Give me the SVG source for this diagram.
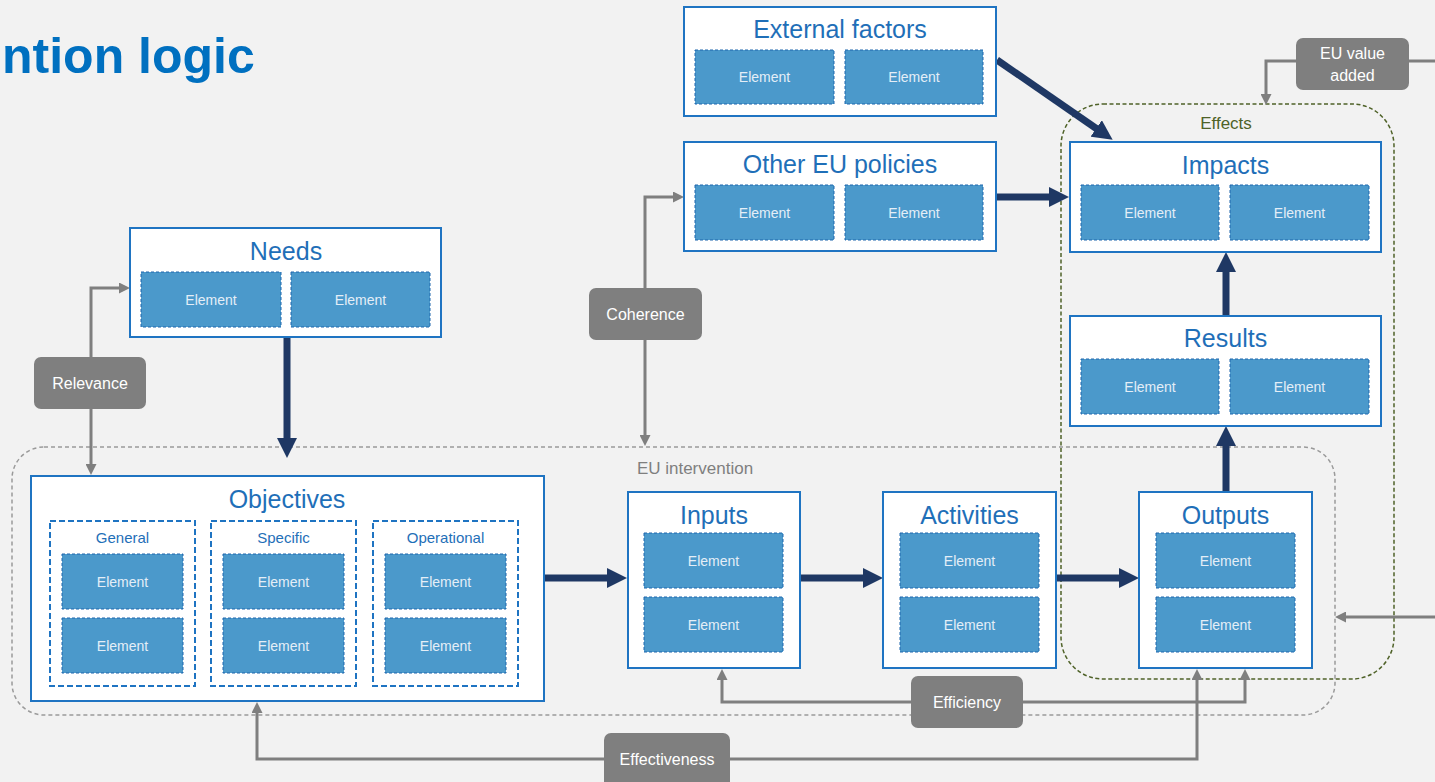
<svg xmlns="http://www.w3.org/2000/svg" width="1435" height="782" viewBox="0 0 1435 782">
<defs>
<style>
.node{fill:#fff;stroke:#1f74c2;stroke-width:2}
.ttl{font-family:"Liberation Sans",Arial,sans-serif;font-size:25px;fill:#1f6fb8;text-anchor:middle}
.el{fill:#4b99cb;stroke:#1f66ad;stroke-width:1;stroke-dasharray:3 2}
.elt{font-family:"Liberation Sans",Arial,sans-serif;font-size:14px;fill:#e4eef7;text-anchor:middle}
.sub{fill:#fff;stroke:#1f74c2;stroke-width:2;stroke-dasharray:6 3}
.subt{font-family:"Liberation Sans",Arial,sans-serif;font-size:15px;fill:#1f6fb8;text-anchor:middle}
.lbl{fill:#7f7f7f}
.lblt{font-family:"Liberation Sans",Arial,sans-serif;font-size:16px;fill:#fff;text-anchor:middle}
.navy{stroke:#1f3864;stroke-width:7;fill:none}
.gray{stroke:#7f7f7f;stroke-width:3;fill:none}
</style>
<marker id="an" viewBox="0 0 20 20" markerWidth="20" markerHeight="20" refX="1" refY="10" orient="auto" markerUnits="userSpaceOnUse"><path d="M0,0 L20,10 L0,20 z" fill="#1f3864"/></marker>
<marker id="ag" viewBox="0 0 11 11" markerWidth="11" markerHeight="11" refX="1" refY="5.5" orient="auto" markerUnits="userSpaceOnUse"><path d="M0,0 L11,5.5 L0,11 z" fill="#7f7f7f"/></marker>
</defs>
<rect width="1435" height="782" fill="#f2f2f2"/>
<text x="2" y="73" font-family="Liberation Sans,Arial,sans-serif" font-size="50" font-weight="bold" fill="#0070c0">ntion logic</text>

<g id="groups">
<rect x="12" y="447" width="1323" height="268" rx="32" fill="none" stroke="#9a9a9a" stroke-width="1.5" stroke-dasharray="4 3"/>
<text x="695" y="474" font-family="Liberation Sans,Arial,sans-serif" font-size="17" fill="#7f7f7f" text-anchor="middle">EU intervention</text>
<rect x="1061" y="104" width="333" height="575" rx="42" fill="none" stroke="#4f6228" stroke-width="1.5" stroke-dasharray="4 2.5"/>
<text x="1226" y="129" font-family="Liberation Sans,Arial,sans-serif" font-size="17" fill="#4f6228" text-anchor="middle">Effects</text>
</g>

<g id="connectors">
<path class="gray" d="M91,357 V288 H120" marker-end="url(#ag)"/>
<path class="gray" d="M91,409 V465" marker-end="url(#ag)"/>
<path class="gray" d="M645,288 V197 H674" marker-end="url(#ag)"/>
<path class="gray" d="M645,340 V436" marker-end="url(#ag)"/>
<path class="gray" d="M1296,61 H1266 V95" marker-end="url(#ag)"/>
<path class="gray" d="M1409,61 H1435"/>
<path class="gray" d="M1435,617 H1345" marker-end="url(#ag)"/>
<path class="gray" d="M911,702 H722 V679" marker-end="url(#ag)"/>
<path class="gray" d="M1023,702 H1245 V679" marker-end="url(#ag)"/>
<path class="gray" d="M604,759 H257 V712" marker-end="url(#ag)"/>
<path class="gray" d="M730,759 H1197 V679" marker-end="url(#ag)"/>
<path class="navy" d="M287,338 V439" marker-end="url(#an)"/>
<path class="navy" d="M545,578 H608" marker-end="url(#an)"/>
<path class="navy" d="M801,578 H864" marker-end="url(#an)"/>
<path class="navy" d="M1057,578 H1120" marker-end="url(#an)"/>
<path class="navy" d="M1226,492 V445" marker-end="url(#an)"/>
<path class="navy" d="M1226,316 V271" marker-end="url(#an)"/>
<path class="navy" d="M997,197 H1050" marker-end="url(#an)"/>
<path class="navy" d="M997,60 L1097,129" marker-end="url(#an)"/>
</g>

<g id="external-factors">
<rect class="node" x="684" y="7" width="312" height="109"/>
<text class="ttl" x="840" y="38">External factors</text>
<rect class="el" x="695" y="50" width="139" height="54"/><text class="elt" x="764.5" y="82">Element</text>
<rect class="el" x="845" y="50" width="138" height="54"/><text class="elt" x="914" y="82">Element</text>
</g>

<g id="other-eu-policies">
<rect class="node" x="684" y="142" width="312" height="109"/>
<text class="ttl" x="840" y="173">Other EU policies</text>
<rect class="el" x="695" y="185" width="139" height="55"/><text class="elt" x="764.5" y="217.5">Element</text>
<rect class="el" x="845" y="185" width="138" height="55"/><text class="elt" x="914" y="217.5">Element</text>
</g>

<g id="needs">
<rect class="node" x="130" y="228" width="311" height="109"/>
<text class="ttl" x="286" y="260">Needs</text>
<rect class="el" x="141" y="272" width="140" height="55"/><text class="elt" x="211" y="304.5">Element</text>
<rect class="el" x="291" y="272" width="139" height="55"/><text class="elt" x="360.5" y="304.5">Element</text>
</g>

<g id="objectives">
<rect class="node" x="31" y="476" width="513" height="225"/>
<text class="ttl" x="287" y="508">Objectives</text>
<rect class="sub" x="50" y="521" width="145" height="165"/>
<text class="subt" x="122.5" y="543">General</text>
<rect class="el" x="62" y="554" width="121" height="55"/><text class="elt" x="122.5" y="586.5">Element</text>
<rect class="el" x="62" y="618" width="121" height="55"/><text class="elt" x="122.5" y="650.5">Element</text>
<rect class="sub" x="211" y="521" width="145" height="165"/>
<text class="subt" x="283.5" y="543">Specific</text>
<rect class="el" x="223" y="554" width="121" height="55"/><text class="elt" x="283.5" y="586.5">Element</text>
<rect class="el" x="223" y="618" width="121" height="55"/><text class="elt" x="283.5" y="650.5">Element</text>
<rect class="sub" x="373" y="521" width="145" height="165"/>
<text class="subt" x="445.5" y="543">Operational</text>
<rect class="el" x="385" y="554" width="121" height="55"/><text class="elt" x="445.5" y="586.5">Element</text>
<rect class="el" x="385" y="618" width="121" height="55"/><text class="elt" x="445.5" y="650.5">Element</text>
</g>

<g id="inputs">
<rect class="node" x="628" y="492" width="172" height="176"/>
<text class="ttl" x="714" y="524">Inputs</text>
<rect class="el" x="644" y="533" width="139" height="55"/><text class="elt" x="713.5" y="565.5">Element</text>
<rect class="el" x="644" y="597" width="139" height="55"/><text class="elt" x="713.5" y="629.5">Element</text>
</g>

<g id="activities">
<rect class="node" x="883" y="492" width="173" height="176"/>
<text class="ttl" x="969.5" y="524">Activities</text>
<rect class="el" x="900" y="533" width="139" height="55"/><text class="elt" x="969.5" y="565.5">Element</text>
<rect class="el" x="900" y="597" width="139" height="55"/><text class="elt" x="969.5" y="629.5">Element</text>
</g>

<g id="outputs">
<rect class="node" x="1139" y="492" width="173" height="176"/>
<text class="ttl" x="1225.5" y="524">Outputs</text>
<rect class="el" x="1156" y="533" width="139" height="55"/><text class="elt" x="1225.5" y="565.5">Element</text>
<rect class="el" x="1156" y="597" width="139" height="55"/><text class="elt" x="1225.5" y="629.5">Element</text>
</g>

<g id="results">
<rect class="node" x="1070" y="316" width="311" height="110"/>
<text class="ttl" x="1225.5" y="347">Results</text>
<rect class="el" x="1081" y="359" width="138" height="55"/><text class="elt" x="1150" y="391.5">Element</text>
<rect class="el" x="1230" y="359" width="139" height="55"/><text class="elt" x="1299.5" y="391.5">Element</text>
</g>

<g id="impacts">
<rect class="node" x="1070" y="142" width="311" height="110"/>
<text class="ttl" x="1225.5" y="174">Impacts</text>
<rect class="el" x="1081" y="185" width="138" height="55"/><text class="elt" x="1150" y="217.5">Element</text>
<rect class="el" x="1230" y="185" width="139" height="55"/><text class="elt" x="1299.5" y="217.5">Element</text>
</g>

<g id="relevance">
<rect class="lbl" x="34" y="357" width="112" height="52" rx="7"/>
<text class="lblt" x="90" y="389">Relevance</text>
</g>
<g id="coherence">
<rect class="lbl" x="589" y="288" width="113" height="52" rx="7"/>
<text class="lblt" x="645.5" y="320">Coherence</text>
</g>
<g id="eu-value-added">
<rect class="lbl" x="1296" y="38" width="113" height="52" rx="7"/>
<text class="lblt" x="1352.5" y="59">EU value</text>
<text class="lblt" x="1352.5" y="81">added</text>
</g>
<g id="efficiency">
<rect class="lbl" x="911" y="676" width="112" height="52" rx="7"/>
<text class="lblt" x="967" y="708">Efficiency</text>
</g>
<g id="effectiveness">
<rect class="lbl" x="604" y="733" width="126" height="60" rx="7"/>
<text class="lblt" x="667" y="765">Effectiveness</text>
</g>
</svg>
